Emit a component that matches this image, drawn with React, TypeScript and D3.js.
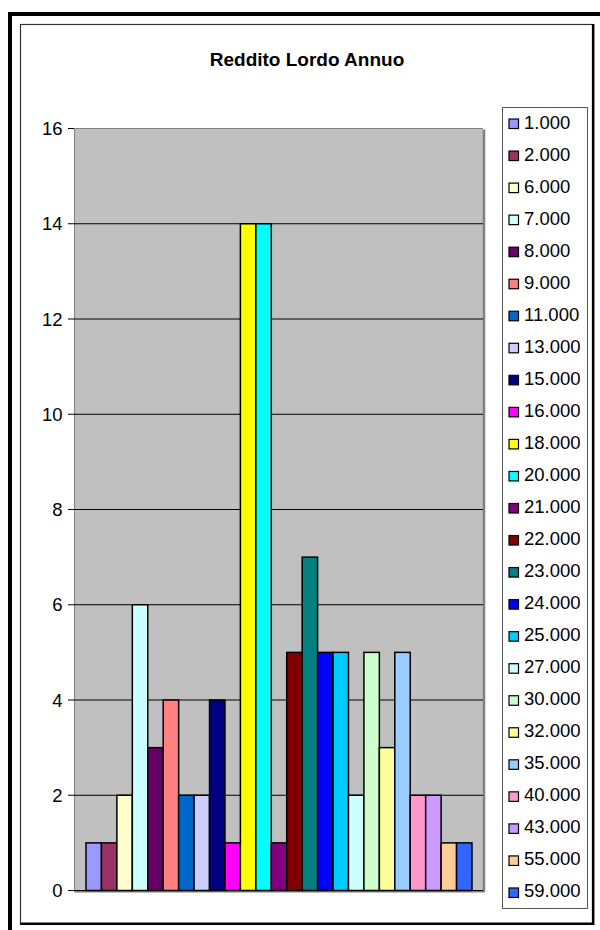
import React from "react";
import * as d3 from "d3";

// Income brackets (euro) and how many people fall in each
const brackets = [
  "1.000", "2.000", "6.000", "7.000", "8.000", "9.000", "11.000", "13.000",
  "15.000", "16.000", "18.000", "20.000", "21.000", "22.000", "23.000",
  "24.000", "25.000", "27.000", "30.000", "32.000", "35.000", "40.000",
  "43.000", "55.000", "59.000",
];
const counts = [1, 1, 2, 6, 3, 4, 2, 2, 4, 1, 14, 14, 1, 5, 7, 5, 5, 2, 5, 3, 5, 2, 2, 1, 1];
const seriesColors = [
  "#9999FF", "#993366", "#FFFFCC", "#CCFFFF", "#660066", "#FF8080", "#0066CC",
  "#CCCCFF", "#000080", "#FF00FF", "#FFFF00", "#00FFFF", "#800080", "#800000",
  "#008080", "#0000FF", "#00CCFF", "#CCFFFF", "#CCFFCC", "#FFFF99", "#99CCFF",
  "#FF99CC", "#CC99FF", "#FFCC99", "#3366FF",
];
const yTicks = [0, 2, 4, 6, 8, 10, 12, 14, 16];
const title = "Reddito Lordo Annuo";

const W = 600;
const H = 930;
const plot = { left: 74, right: 483, top: 128.5, bottom: 890.5 };
const legendBox = { left: 502, right: 587, top: 107, bottom: 908 };
const font = "Arial, 'Liberation Sans', Helvetica, sans-serif";

export default function App() {
  const y = d3.scaleLinear().domain([0, 16]).range([plot.bottom, plot.top]);
  const x = d3.scaleBand<string>().domain(brackets).range([86, 472]).padding(0);
  const ly = d3
    .scaleBand<string>()
    .domain(brackets)
    .range([legendBox.top, legendBox.bottom]);

  return (
    <svg
      width={W}
      height={H}
      viewBox={`0 0 ${W} ${H}`}
      style={{ position: "absolute", left: 0, top: 0, display: "block", background: "#fff" }}
      fontFamily={font}
    >
      {/* outer frame */}
      <rect x={10} y={14} width={W + 20} height={H + 20} fill="none" stroke="#000" strokeWidth={4} />

      {/* chart area */}
      <rect x={20.5} y={24.5} width={572} height={898.5} fill="#fff" stroke="#333" strokeWidth={1.2} />
      <line x1={593.2} y1={24} x2={593.2} y2={925} stroke="#000" strokeWidth={2.5} />
      <line x1={20} y1={924} x2={594} y2={924} stroke="#000" strokeWidth={2.2} />

      <text x={307} y={66} textAnchor="middle" fontWeight="bold" fontSize={19} fill="#000">
        {title}
      </text>

      {/* plot area */}
      <rect
        x={plot.left}
        y={plot.top}
        width={plot.right - plot.left}
        height={plot.bottom - plot.top}
        fill="#C0C0C0"
      />
      <line x1={plot.right + 1} y1={plot.top + 1} x2={plot.right + 1} y2={plot.bottom + 1.5} stroke="#808080" strokeWidth={2.5} />
      <line x1={plot.left} y1={plot.bottom + 1} x2={plot.right + 2} y2={plot.bottom + 1} stroke="#808080" strokeWidth={2} />
      <line x1={plot.left} y1={plot.top} x2={plot.right} y2={plot.top} stroke="#808080" strokeWidth={1} />
      <line x1={plot.left + 0.5} y1={plot.top} x2={plot.left + 0.5} y2={plot.bottom} stroke="#808080" strokeWidth={1} />

      {/* gridlines and ticks */}
      {yTicks.map((t) => (
        <g key={t}>
          {t > 0 && t < 16 && (
            <line x1={plot.left} x2={plot.right} y1={y(t)} y2={y(t)} stroke="#000" strokeWidth={1} />
          )}
          <line x1={68} x2={plot.left} y1={y(t)} y2={y(t)} stroke="#000" strokeWidth={1} />
          <text x={62.5} y={y(t) + 6.6} textAnchor="end" fontSize={18.5} fill="#000">
            {t}
          </text>
        </g>
      ))}

      {/* bars */}
      {brackets.map((b, i) => (
        <rect
          key={b}
          x={x(b)}
          y={y(counts[i])}
          width={x.bandwidth()}
          height={y(0) - y(counts[i])}
          fill={seriesColors[i]}
          stroke="#000"
          strokeWidth={1.5}
        />
      ))}

      {/* baseline */}
      <line x1={68} x2={plot.right} y1={y(0)} y2={y(0)} stroke="#000" strokeWidth={1.2} />

      {/* legend */}
      <rect
        x={legendBox.left + 0.5}
        y={legendBox.top + 0.5}
        width={legendBox.right - legendBox.left}
        height={legendBox.bottom - legendBox.top}
        fill="#fff"
        stroke="#555"
        strokeWidth={1}
      />
      {brackets.map((b, i) => {
        const cy = (ly(b) as number) + ly.bandwidth() / 2;
        return (
          <g key={b}>
            <rect x={509} y={cy - 4} width={9.5} height={9.5} fill={seriesColors[i]} stroke="#000" strokeWidth={1.2} />
            <text x={524} y={cy + 5.5} fontSize={18.5} fill="#000">
              {b}
            </text>
          </g>
        );
      })}
    </svg>
  );
}
